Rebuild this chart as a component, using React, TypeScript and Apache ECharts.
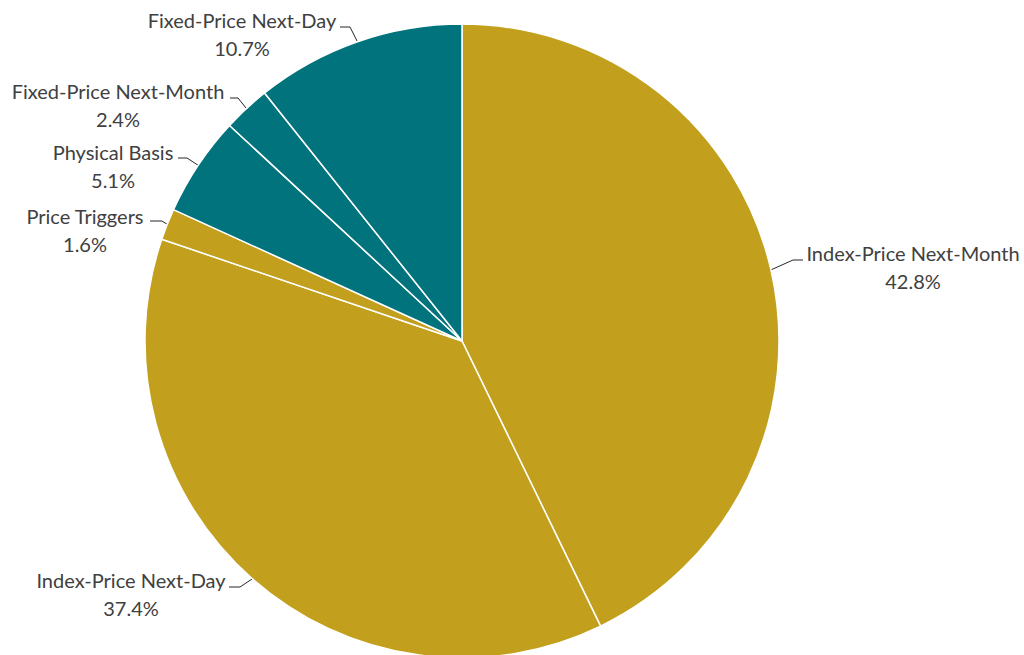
import React, { useEffect, useRef } from 'react';
import * as echarts from 'echarts';

const categories = [
  'Index-Price Next-Month',
  'Index-Price Next-Day',
  'Price Triggers',
  'Physical Basis',
  'Fixed-Price Next-Month',
  'Fixed-Price Next-Day',
];
const shares = [42.8, 37.4, 1.6, 5.1, 2.4, 10.7];

const GOLD = '#C2A01E';
const TEAL = '#00737D';
const sliceColors = [GOLD, GOLD, GOLD, TEAL, TEAL, TEAL];

const CX = 462;
const CY = 341;
const R = 317;
// label block centres (layout only)
const labelPos = [
  [913, 267],
  [131, 594],
  [85, 230],
  [113, 166],
  [118, 105],
  [242, 34],
];
// leader: [attachX, attachY, elbowX]
const leaderAttach = [
  [803, 260, 793],
  [229, 587, 240],
  [150, 221, 162],
  [178, 158, 187],
  [230, 98, 238],
  [340, 27, 350],
];

function edgePoint(i: number): number[] {
  const total = shares.reduce((a, b) => a + b, 0);
  let cum = 0;
  for (let k = 0; k < i; k++) cum += shares[k];
  const theta = (2 * Math.PI * (cum + shares[i] / 2)) / total;
  return [CX + R * Math.sin(theta), CY - R * Math.cos(theta)];
}

export default function App() {
  const ref = useRef<HTMLDivElement>(null);
  useEffect(() => {
    if (!ref.current) return;
    const chart = echarts.init(ref.current, undefined, { renderer: 'svg' });
    chart.setOption({
      animation: false,
      backgroundColor: '#ffffff',
      series: [
        {
          type: 'pie',
          center: [CX, CY],
          radius: R,
          startAngle: 90,
          clockwise: true,
          avoidLabelOverlap: false,
          emphasis: { disabled: true },
          itemStyle: { borderColor: '#ffffff', borderWidth: 1.5 },
          label: {
            show: true,
            position: 'outside',
            formatter: (p: any) => `${p.name}\n${shares[p.dataIndex].toFixed(1)}%`,
            fontFamily: 'Lato',
            fontSize: 20,
            lineHeight: 27.5,
            color: '#404040',
            align: 'center',
          },
          labelLine: {
            show: true,
            lineStyle: { color: '#262626', width: 1 },
          },
          labelLayout: (p: any) => {
            const i = p.dataIndex;
            const [lx, ly] = labelPos[i];
            const [ax, ay, ex] = leaderAttach[i];
            return {
              x: lx,
              y: ly,
              align: 'center',
              verticalAlign: 'middle',
              labelLinePoints: [edgePoint(i), [ex, ay], [ax, ay]],
            };
          },
          data: categories.map((name, i) => ({
            name,
            value: shares[i],
            itemStyle: { color: sliceColors[i] },
          })),
        },
      ],
    });
    return () => chart.dispose();
  }, []);
  return (
    <div
      ref={ref}
      style={{ position: 'fixed', left: 0, top: 0, width: 1024, height: 655 }}
    />
  );
}
